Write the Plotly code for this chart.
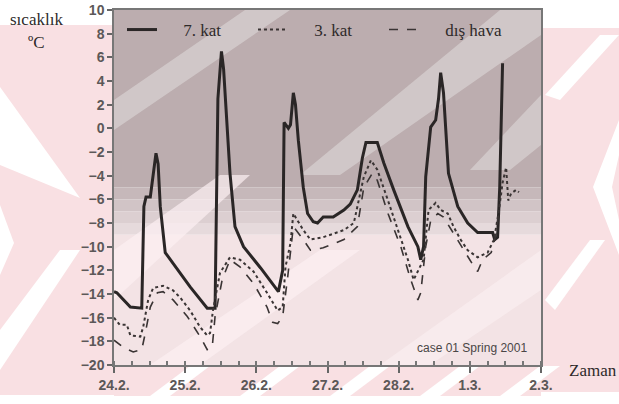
import plotly.graph_objects as go

# ---------------- data (days since 24.2.) ----------------
t_7kat = [0.00, 0.04, 0.23, 0.37, 0.39, 0.42, 0.45, 0.51, 0.59, 0.62, 0.65, 0.72, 0.86, 1.07, 1.31, 1.42,
          1.46, 1.51, 1.54, 1.56, 1.63, 1.70, 1.82, 2.06, 2.27, 2.31, 2.37, 2.39, 2.45, 2.48, 2.52, 2.55,
          2.59, 2.66, 2.72, 2.80, 2.86, 2.94, 3.08, 3.23, 3.32, 3.42, 3.49, 3.54, 3.70, 3.79, 3.93, 4.13,
          4.27, 4.31, 4.35, 4.38, 4.45, 4.52, 4.56, 4.59, 4.63, 4.70, 4.83, 4.97, 5.11, 5.32, 5.35, 5.39,
          5.42, 5.46]
v_7kat = [-13.8, -13.9, -15.1, -15.2, -15.2, -6.6, -5.8, -5.8, -2.1, -3.0, -6.6, -10.5, -11.7, -13.4, -15.2, -15.2,
          2.5, 6.5, 5.0, 3.2, -3.8, -8.3, -10.0, -11.8, -13.4, -13.8, -12.0, 0.5, 0.0, 0.3, 3.0, 2.0,
          -1.0, -5.0, -7.2, -7.9, -8.0, -7.5, -7.5, -6.9, -6.4, -5.2, -2.5, -1.2, -1.2, -2.9, -5.2, -8.3,
          -10.0, -11.1, -10.0, -4.1, 0.1, 0.7, 2.5, 4.7, 3.0, -3.8, -6.6, -8.0, -8.8, -8.8, -9.4, -9.2,
          -5.0, 5.5]

t_3kat = [0.00, 0.08, 0.18, 0.23, 0.37, 0.41, 0.48, 0.55, 0.69, 0.83, 0.93, 1.07, 1.21, 1.31, 1.35, 1.39,
          1.49, 1.63, 1.77, 1.96, 2.15, 2.30, 2.37, 2.41, 2.48, 2.52, 2.66, 2.76, 2.94, 3.23, 3.37, 3.51,
          3.61, 3.70, 3.85, 3.99, 4.13, 4.21, 4.28, 4.35, 4.42, 4.52, 4.59, 4.69, 4.77, 4.87, 4.97, 5.11,
          5.25, 5.34, 5.41, 5.46, 5.51, 5.54, 5.58, 5.65, 5.69]
v_3kat = [-16.0, -16.6, -16.6, -17.5, -17.6, -16.8, -14.5, -13.5, -13.3, -13.7, -14.3, -15.4, -16.8, -17.5, -17.3, -15.4,
          -12.2, -10.9, -11.1, -12.1, -13.9, -15.4, -15.1, -11.7, -9.7, -7.2, -8.6, -9.4, -9.2, -8.6, -8.0, -4.1,
          -2.7, -3.5, -6.1, -8.6, -11.1, -12.8, -12.0, -11.1, -6.9, -6.3, -6.9, -7.2, -8.3, -9.4, -10.3, -10.9,
          -10.5, -9.4, -6.9, -4.6, -3.3, -6.1, -5.5, -5.2, -5.4]

t_dis = [0.00, 0.13, 0.27, 0.39, 0.44, 0.51, 0.61, 0.69, 0.83, 1.03, 1.21, 1.31, 1.38, 1.42, 1.52, 1.63,
         1.77, 1.96, 2.15, 2.23, 2.30, 2.37, 2.44, 2.52, 2.66, 2.76, 2.94, 3.23, 3.42, 3.51, 3.63, 3.70,
         3.85, 4.03, 4.17, 4.27, 4.31, 4.38, 4.45, 4.55, 4.63, 4.77, 4.92, 5.06, 5.11, 5.18, 5.30, 5.37,
         5.41]
v_dis = [-17.9, -18.5, -18.9, -18.7, -17.3, -15.1, -13.9, -13.8, -14.5, -15.9, -17.6, -18.7, -18.5, -15.9, -12.8, -11.1,
         -11.7, -13.1, -15.1, -16.4, -16.5, -15.9, -12.6, -8.3, -9.4, -10.3, -10.1, -9.4, -8.3, -5.0, -3.8, -4.4,
         -7.2, -10.0, -12.8, -14.5, -13.9, -10.0, -7.8, -7.2, -7.5, -8.9, -10.3, -11.7, -12.1, -11.1, -10.5, -8.9,
         -6.9]

day_ticks = [0, 1, 2, 3, 4, 5, 6]
day_labels = ["24.2.", "25.2.", "26.2.", "27.2.", "28.2.", "1.3.", "2.3."]
y_ticks = list(range(-20, 11, 2))

series_names = ["7. kat", "3. kat", "dış hava"]

# ---------------- figure ----------------
W, H = 619, 404
L, R, T, B = 114, 541, 10, 365  # plot area in pixels


def px(x, y):
    """pixel -> paper coordinates (decoration only)"""
    return (x - L) / (R - L), (B - y) / (B - T)


def poly(points, color, layer="below"):
    pts = [px(x, y) for x, y in points]
    d = "M " + " L ".join(f"{a:.4f},{b:.4f}" for a, b in pts) + " Z"
    return dict(type="path", xref="paper", yref="paper", path=d,
                fillcolor=color, line=dict(width=0), layer=layer)


PINK = "#f9e0e3"
shapes = []
# watermark in margins
shapes.append(poly([(0, 25), (L, 25), (L, 395), (0, 395)], PINK))
shapes.append(poly([(R, 28), (W, 28), (W, 392), (R, 392)], PINK))
shapes.append(poly([(L, B), (R, B), (R, 396), (L, 396)], PINK))
shapes.append(poly([(0, 87), (80, 198), (0, 165)], "white"))
shapes.append(poly([(0, 205), (14, 243), (0, 275)], "white"))
shapes.append(poly([(0, 330), (60, 250), (80, 250), (0, 370)], "white"))
shapes.append(poly([(W, 120), (593, 187), (W, 255), (W, 220), (612, 187), (W, 155)], "white"))
shapes.append(poly([(545, 95), (600, 35), (619, 35), (560, 100)], "white"))
shapes.append(poly([(545, 300), (590, 240), (605, 240), (555, 310)], "white"))
for x0 in [150, 240, 330, 420, 500]:
    shapes.append(poly([(x0, 396), (x0 + 40, 366), (x0 + 60, 366), (x0 + 20, 396)], "white"))

# plot area background bands
bands = [(10, -5, "#bcadaf"), (-5, -6, "#c6b8ba"), (-6, -7, "#d1c4c6"),
         (-7, -8, "#dccfd1"), (-8, -9, "#e6dadc"), (-9, -20, "#f3e3e5")]
for y0, y1, c in bands:
    shapes.append(dict(type="rect", xref="paper", yref="y", x0=0, x1=1, y0=y1, y1=y0,
                       fillcolor=c, line=dict(width=0), layer="below"))
# lighter diagonal watermark bands inside the plot
LB = "rgba(215,208,208,0.75)"
shapes.append(poly([(L, 130), (L, 100), (245, T), (290, T)], LB))
shapes.append(poly([(300, 175), (340, 175), (R, 35), (R, T), (500, T)], LB))
shapes.append(poly([(470, 170), (510, 170), (R, 145), (R, 95)], LB))
shapes.append(poly([(L, 300), (L, 250), (220, 175), (250, 175)], "rgba(252,240,242,0.7)"))
shapes.append(poly([(150, B), (200, B), (360, 250), (320, 250)], "rgba(252,240,242,0.7)"))
shapes.append(poly([(380, B), (430, B), (R, 290), (R, 250)], "rgba(252,240,242,0.6)"))

GAP = "\u00a0" * 5
fig = go.Figure()
fig.add_trace(go.Scatter(x=t_7kat, y=v_7kat, mode="lines", name=GAP + series_names[0],
                         line=dict(color="#2a2626", width=3)))
fig.add_trace(go.Scatter(x=t_3kat, y=v_3kat, mode="lines", name=GAP + series_names[1],
                         line=dict(color="#3a3434", width=2, dash="dot")))
fig.add_trace(go.Scatter(x=t_dis, y=v_dis, mode="lines", name=GAP + series_names[2],
                         line=dict(color="#3a3434", width=1.6, dash="dash")))

tick_font = dict(family="Liberation Sans, Arial", size=14, color="#5c5858", weight="bold")
serif = "Liberation Serif, Times New Roman"

fig.update_layout(
    width=W, height=H,
    margin=dict(l=L, r=W - R, t=T, b=H - B, pad=0, autoexpand=False),
    paper_bgcolor="white",
    plot_bgcolor="rgba(0,0,0,0)",
    showlegend=True,
    legend=dict(orientation="h", x=px(122, 0)[0], y=px(0, 30)[1], xanchor="left", yanchor="middle",
                bgcolor="rgba(0,0,0,0)", font=dict(family=serif, size=17, color="#2e2a2a"),
                entrywidth=86, tracegroupgap=0, itemwidth=30),
    shapes=shapes,
    xaxis=dict(range=[0, 6], tickmode="array", tickvals=day_ticks, ticktext=day_labels,
               ticks="outside", ticklen=6, tickcolor="#666", tickwidth=1.5,
               showgrid=False, zeroline=False, showline=True, linecolor="#777", linewidth=1.5,
               mirror=True, tickfont=tick_font,
               minor=dict(dtick=0.25, ticks="inside", ticklen=4, tickcolor="#777", showgrid=False)),
    yaxis=dict(range=[-20, 10], tickmode="array", tickvals=y_ticks,
               ticks="outside", ticklen=5, tickcolor="#666", tickwidth=1.5,
               showgrid=False, zeroline=False, showline=True, linecolor="#777", linewidth=1.5,
               mirror=True, tickfont=tick_font),
    annotations=[
        dict(text="sıcaklık", xref="paper", yref="paper", x=px(36, 0)[0], y=px(0, 20)[1],
             xanchor="center", yanchor="middle",
             showarrow=False, font=dict(family=serif, size=17, color="#2e2a2a")),
        dict(text="ºC", xref="paper", yref="paper", x=px(36, 0)[0], y=px(0, 43)[1],
             xanchor="center", yanchor="middle",
             showarrow=False, font=dict(family=serif, size=17, color="#2e2a2a")),
        dict(text="Zaman", xref="paper", yref="paper", x=px(593, 0)[0], y=px(0, 370)[1],
             xanchor="center", yanchor="middle",
             showarrow=False, font=dict(family=serif, size=17, color="#2e2a2a")),
        dict(text="case 01 Spring 2001", xref="paper", yref="paper", x=px(472, 0)[0], y=px(0, 348)[1],
             xanchor="center", yanchor="middle",
             showarrow=False, font=dict(family="Liberation Sans Narrow, Liberation Sans, Arial", size=12,
                                         color="#4a4646")),
    ],
)

fig.write_html("out.html", config={"displayModeBar": False},
               post_script="document.body.style.margin='0';")
